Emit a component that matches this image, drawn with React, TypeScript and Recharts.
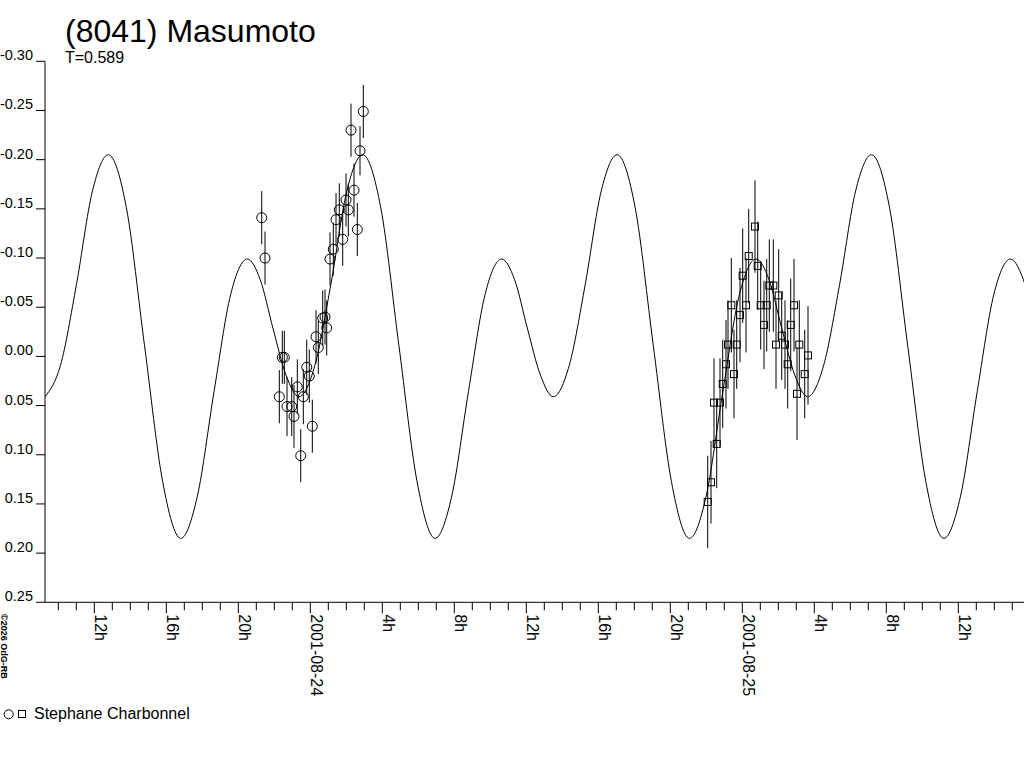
import { ComposedChart, ErrorBar, Line, Scatter, XAxis, YAxis } from 'recharts'

// hours since 2001-08-24 0h, magnitude offset (fitted curve, T = 0.589 d)
const fitHours = [
  -14.74, -13.878, -12.994, -12.106, -11.222, -10.217, -9.211, -8.206, -7.2,
  -6.275, -5.35, -4.425, -3.5, -2.783, -2.067, -1.35, -0.633,
  0.255, 1.139, 2.027, 2.911, 3.916, 4.922, 5.927, 6.933,
  7.858, 8.783, 9.708, 10.633, 11.35, 12.066, 12.783, 13.5,
  14.388, 15.272, 16.16, 17.044, 18.049, 19.055, 20.06, 21.066,
  21.991, 22.916, 23.841, 24.766, 25.483, 26.199, 26.916, 27.633,
  28.521, 29.405, 30.293, 31.177, 32.182, 33.188, 34.193, 35.199,
  36.124, 37.049, 37.974, 38.899, 39.616, 40.333,
]
const fitMags = [
  0.041, 0.009, -0.073, -0.168, -0.205, -0.151, -0.011, 0.127, 0.185,
  0.142, 0.036, -0.063, -0.099, -0.078, -0.028, 0.019, 0.041,
  0.009, -0.073, -0.168, -0.205, -0.151, -0.011, 0.127, 0.185,
  0.142, 0.036, -0.063, -0.099, -0.078, -0.028, 0.019, 0.041,
  0.009, -0.073, -0.168, -0.205, -0.151, -0.011, 0.127, 0.185,
  0.142, 0.036, -0.063, -0.099, -0.078, -0.028, 0.019, 0.041,
  0.009, -0.073, -0.168, -0.205, -0.151, -0.011, 0.127, 0.185,
  0.142, 0.036, -0.063, -0.099, -0.078, -0.028,
]

// night 1 (circles)
const night1Hours = [
  -2.7, -2.517, -1.722, -1.556, -1.444, -1.294, -1.033, -0.906, -0.722, -0.533,
  -0.389, -0.2, -0.056, 0.111, 0.317, 0.444, 0.689, 0.817, 0.911, 1.094,
  1.278, 1.428, 1.611, 1.8, 1.983, 2.111, 2.261, 2.428, 2.611, 2.761, 2.944,
]
const night1Mags = [
  -0.141, -0.1, 0.041, 0.001, 0.001, 0.051, 0.051, 0.061, 0.031, 0.101,
  0.041, 0.011, 0.02, 0.071, -0.02, -0.009, -0.039, -0.04, -0.029, -0.099,
  -0.109, -0.139, -0.149, -0.119, -0.159, -0.149, -0.23, -0.169, -0.129, -0.209, -0.249,
]
const night1Errs = [
  0.027, 0.027, 0.027, 0.027, 0.027, 0.03, 0.03, 0.032, 0.028, 0.027,
  0.028, 0.028, 0.027, 0.027, 0.027, 0.027, 0.028, 0.028, 0.028, 0.027,
  0.027, 0.027, 0.027, 0.027, 0.027, 0.027, 0.027, 0.027, 0.027, 0.025, 0.027,
]

// night 2 (squares)
const night2Hours = [
  22.078, 22.261, 22.428, 22.578, 22.761, 22.911, 23.094, 23.206, 23.389, 23.539,
  23.689, 23.872, 24.022, 24.206, 24.356, 24.706, 24.856, 25.022, 25.206, 25.356,
  25.5, 25.722, 25.872, 26.022, 26.189, 26.372, 26.522, 26.689, 26.872, 27.039,
  27.167, 27.467, 27.65,
]
const night2Mags = [
  0.148, 0.128, 0.047, 0.089, 0.047, 0.028, 0.008, -0.012, -0.052, 0.018,
  -0.012, -0.042, -0.082, -0.052, -0.102, -0.132, -0.092, -0.052, -0.032, -0.052,
  -0.072, -0.072, -0.012, -0.062, -0.021, -0.012, 0.008, -0.032, -0.052, 0.038,
  -0.012, 0.018, -0.001,
]
const night2Errs = [
  0.047, 0.042, 0.045, 0.045, 0.045, 0.045, 0.045, 0.045, 0.048, 0.045,
  0.045, 0.048, 0.048, 0.048, 0.048, 0.047, 0.045, 0.045, 0.045, 0.047,
  0.047, 0.047, 0.045, 0.047, 0.045, 0.045, 0.045, 0.047, 0.047, 0.047,
  0.045, 0.045, 0.05,
]

const magTicks = [-0.3, -0.25, -0.2, -0.15, -0.1, -0.05, 0, 0.05, 0.1, 0.15, 0.2, 0.25]
const hourTicks = [
  -14, -13, -12, -11, -10, -9, -8, -7, -6, -5, -4, -3, -2, -1, 0, 1, 2, 3, 4, 5,
  6, 7, 8, 9, 10, 11, 12, 13, 14, 15, 16, 17, 18, 19, 20, 21, 22, 23, 24, 25,
  26, 27, 28, 29, 30, 31, 32, 33, 34, 35, 36, 37, 38, 39,
]
const labelHours = [-12, -8, -4, 0, 4, 8, 12, 16, 20, 24, 28, 32, 36]
const hourLabels = ['12h', '16h', '20h', '2001-08-24', '4h', '8h', '12h', '16h', '20h', '2001-08-25', '4h', '8h', '12h']

const FONT = '"Liberation Sans", Arial, sans-serif'

const fitData = fitHours.map((t, i) => ({ t, m: fitMags[i] }))
const night1 = night1Hours.map((t, i) => ({ t, m: night1Mags[i], e: night1Errs[i] }))
const night2 = night2Hours.map((t, i) => ({ t, m: night2Mags[i], e: night2Errs[i] }))

function HourTick(props: any) {
  const { x, y, payload } = props
  const idx = labelHours.indexOf(payload.value)
  const major = idx >= 0
  return (
    <g>
      <line x1={x} y1={y} x2={x} y2={y + (major ? 11 : 8)} stroke="#000" />
      {major && (
        <text
          x={x + 1}
          y={y + 12}
          transform={`rotate(90 ${x + 1} ${y + 12})`}
          fontSize={16}
          fontFamily={FONT}
          fill="#000"
        >
          {hourLabels[idx]}
        </text>
      )}
    </g>
  )
}

function MagTick(props: any) {
  const { x, y, payload } = props
  return (
    <text x={x} y={y - 1} textAnchor="end" fontSize={14.5} fontFamily={FONT} fill="#000">
      {payload.value.toFixed(2)}
    </text>
  )
}

const circleShape = (p: any) => <circle cx={p.cx} cy={p.cy} r={5} fill="none" stroke="#000" />
const squareShape = (p: any) => (
  <rect x={p.cx - 3.5} y={p.cy - 3.5} width={7} height={7} fill="none" stroke="#000" />
)

export default function App() {
  return (
    <div style={{ position: 'absolute', left: 0, top: 0, width: 1024, height: 768, background: '#fff', overflow: 'hidden' }}>
      <ComposedChart width={1024} height={768} margin={{ top: 61.3, right: 0, bottom: 0, left: 0 }}>
        <XAxis
          type="number"
          dataKey="t"
          domain={[-14.74, 39.65]}
          allowDataOverflow
          ticks={hourTicks}
          interval={0}
          tickSize={0}
          tickMargin={0}
          tickLine={false}
          tick={<HourTick />}
          height={165.7}
          axisLine={{ stroke: '#000' }}
        />
        <YAxis
          type="number"
          domain={[-0.3, 0.25]}
          reversed
          allowDataOverflow
          ticks={magTicks}
          interval={0}
          width={45}
          tickSize={9}
          tickMargin={3}
          tick={<MagTick />}
          axisLine={{ stroke: '#000' }}
          tickLine={{ stroke: '#000' }}
        />
        <Line
          data={fitData}
          dataKey="m"
          type="monotone"
          stroke="#000"
          strokeWidth={1}
          dot={false}
          activeDot={false}
          isAnimationActive={false}
        />
        <Scatter data={night1} dataKey="m" shape={circleShape} isAnimationActive={false}>
          <ErrorBar dataKey="e" direction="y" width={0} stroke="#000" strokeWidth={1} isAnimationActive={false} />
        </Scatter>
        <Scatter data={night2} dataKey="m" shape={squareShape} isAnimationActive={false}>
          <ErrorBar dataKey="e" direction="y" width={0} stroke="#000" strokeWidth={1} isAnimationActive={false} />
        </Scatter>
      </ComposedChart>
      <svg
        width={1024}
        height={768}
        style={{ position: 'absolute', left: 0, top: 0, pointerEvents: 'none' }}
        fontFamily={FONT}
      >
        <text x={65} y={42} fontSize={32} fill="#000">(8041) Masumoto</text>
        <text x={65} y={63} fontSize={16} fill="#000">T=0.589</text>
        <text transform="translate(1,614) rotate(90)" fontSize={9} fontWeight="bold" fill="#000">
          ©2026 OdG-RB
        </text>
        <circle cx={8.7} cy={714.3} r={4.5} fill="none" stroke="#000" />
        <rect x={18.5} y={710.5} width={7} height={7} fill="none" stroke="#000" />
        <text x={34} y={718.5} fontSize={16} fill="#000">Stephane Charbonnel</text>
      </svg>
    </div>
  )
}
